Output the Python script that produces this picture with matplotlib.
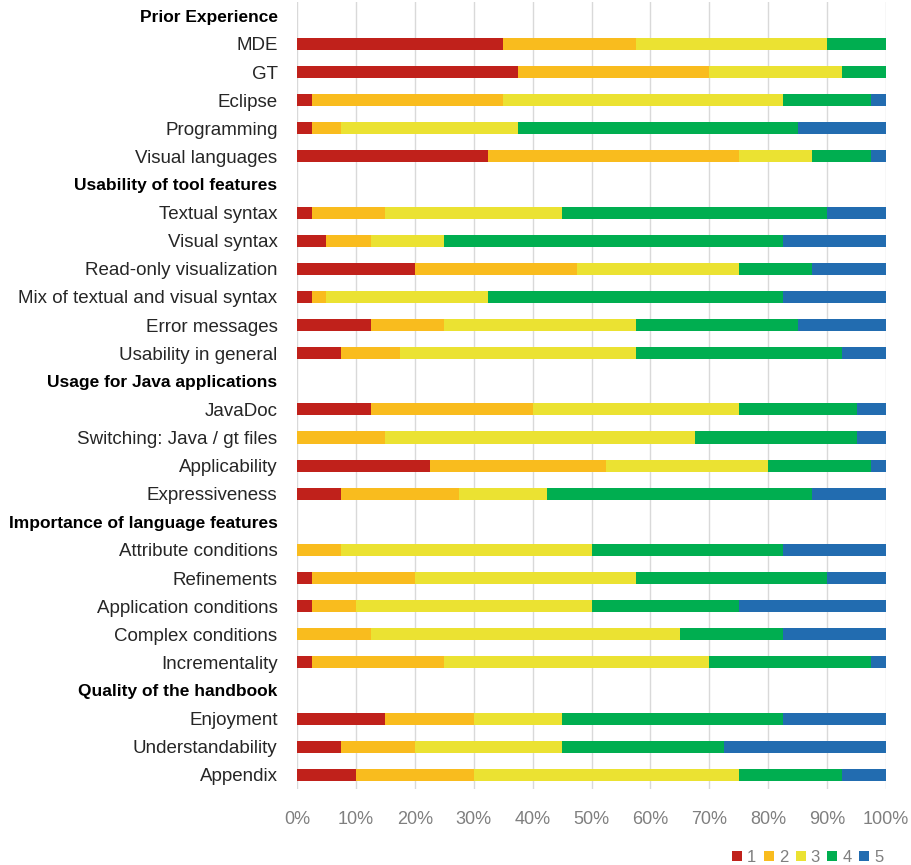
import matplotlib
matplotlib.use("Agg")
import matplotlib.pyplot as plt
from matplotlib.patches import Patch
import numpy as np

plt.rcParams['font.family'] = ['Liberation Sans', 'DejaVu Sans']

# Rows from top to bottom; section headers have no bars
rows = [
    "Prior Experience", "MDE", "GT", "Eclipse", "Programming", "Visual languages",
    "Usability of tool features", "Textual syntax", "Visual syntax",
    "Read-only visualization", "Mix of textual and visual syntax",
    "Error messages", "Usability in general",
    "Usage for Java applications", "JavaDoc", "Switching: Java / gt files",
    "Applicability", "Expressiveness",
    "Importance of language features", "Attribute conditions", "Refinements",
    "Application conditions", "Complex conditions", "Incrementality",
    "Quality of the handbook", "Enjoyment", "Understandability", "Appendix",
]
headers = {"Prior Experience", "Usability of tool features",
           "Usage for Java applications", "Importance of language features",
           "Quality of the handbook"}

# Percentage of answers per rating (1..5) for each item
share_1 = {"MDE": 35, "GT": 37.5, "Eclipse": 2.5, "Programming": 2.5, "Visual languages": 32.5,
           "Textual syntax": 2.5, "Visual syntax": 5, "Read-only visualization": 20,
           "Mix of textual and visual syntax": 2.5, "Error messages": 12.5, "Usability in general": 7.5,
           "JavaDoc": 12.5, "Switching: Java / gt files": 0, "Applicability": 22.5, "Expressiveness": 7.5,
           "Attribute conditions": 0, "Refinements": 2.5, "Application conditions": 2.5,
           "Complex conditions": 0, "Incrementality": 2.5,
           "Enjoyment": 15, "Understandability": 7.5, "Appendix": 10}
share_2 = {"MDE": 22.5, "GT": 32.5, "Eclipse": 32.5, "Programming": 5, "Visual languages": 42.5,
           "Textual syntax": 12.5, "Visual syntax": 7.5, "Read-only visualization": 27.5,
           "Mix of textual and visual syntax": 2.5, "Error messages": 12.5, "Usability in general": 10,
           "JavaDoc": 27.5, "Switching: Java / gt files": 15, "Applicability": 30, "Expressiveness": 20,
           "Attribute conditions": 7.5, "Refinements": 17.5, "Application conditions": 7.5,
           "Complex conditions": 12.5, "Incrementality": 22.5,
           "Enjoyment": 15, "Understandability": 12.5, "Appendix": 20}
share_3 = {"MDE": 32.5, "GT": 22.5, "Eclipse": 47.5, "Programming": 30, "Visual languages": 12.5,
           "Textual syntax": 30, "Visual syntax": 12.5, "Read-only visualization": 27.5,
           "Mix of textual and visual syntax": 27.5, "Error messages": 32.5, "Usability in general": 40,
           "JavaDoc": 35, "Switching: Java / gt files": 52.5, "Applicability": 27.5, "Expressiveness": 15,
           "Attribute conditions": 42.5, "Refinements": 37.5, "Application conditions": 40,
           "Complex conditions": 52.5, "Incrementality": 45,
           "Enjoyment": 15, "Understandability": 25, "Appendix": 45}
share_4 = {"MDE": 10, "GT": 7.5, "Eclipse": 15, "Programming": 47.5, "Visual languages": 10,
           "Textual syntax": 45, "Visual syntax": 57.5, "Read-only visualization": 12.5,
           "Mix of textual and visual syntax": 50, "Error messages": 27.5, "Usability in general": 35,
           "JavaDoc": 20, "Switching: Java / gt files": 27.5, "Applicability": 17.5, "Expressiveness": 45,
           "Attribute conditions": 32.5, "Refinements": 32.5, "Application conditions": 25,
           "Complex conditions": 17.5, "Incrementality": 27.5,
           "Enjoyment": 37.5, "Understandability": 27.5, "Appendix": 17.5}
share_5 = {"MDE": 0, "GT": 0, "Eclipse": 2.5, "Programming": 15, "Visual languages": 2.5,
           "Textual syntax": 10, "Visual syntax": 17.5, "Read-only visualization": 12.5,
           "Mix of textual and visual syntax": 17.5, "Error messages": 15, "Usability in general": 7.5,
           "JavaDoc": 5, "Switching: Java / gt files": 5, "Applicability": 2.5, "Expressiveness": 12.5,
           "Attribute conditions": 17.5, "Refinements": 10, "Application conditions": 25,
           "Complex conditions": 17.5, "Incrementality": 2.5,
           "Enjoyment": 17.5, "Understandability": 27.5, "Appendix": 7.5}

ratings = ["1", "2", "3", "4", "5"]
colors = ["#C0211B", "#F9BC1E", "#EBE232", "#00AE50", "#226CB0"]
tick_values = np.arange(0, 101, 10)

fig = plt.figure(figsize=(9.12, 8.65), dpi=100)
ax = fig.add_axes([0.3257, 0.088, 0.6458, 0.91])

y = np.arange(len(rows))
items = [r for r in rows if r not in headers]
item_y = np.array([rows.index(r) for r in items])
left = np.zeros(len(items))
for share, col in zip([share_1, share_2, share_3, share_4, share_5], colors):
    vals = np.array([share[r] for r in items], dtype=float)
    ax.barh(item_y, vals, left=left, height=0.43, color=col, zorder=3)
    left += vals

ax.set_xlim(0, 100)
ax.set_ylim(len(rows) - 0.5, -0.5)
ax.set_yticks(y)
ax.set_yticklabels(rows)
for lab in ax.get_yticklabels():
    if lab.get_text() in headers:
        lab.set_fontweight("bold")
        lab.set_color("black")
        lab.set_fontsize(12.5)
    else:
        lab.set_color("#262626")
        lab.set_fontsize(13.5)
ax.set_xticks(tick_values)
ax.set_xticklabels([f"{v}%" for v in tick_values], color="#7F7F7F", fontsize=13)
ax.tick_params(axis="both", length=0)
ax.tick_params(axis="x", pad=16)
ax.tick_params(axis="y", pad=14)
ax.grid(axis="x", color="#D9D9D9", linewidth=1, zorder=0)
for s in ax.spines.values():
    s.set_visible(False)

handles = [Patch(facecolor=c, label=r) for c, r in zip(colors, ratings)]
leg = fig.legend(handles=handles, loc="lower right", bbox_to_anchor=(0.985, -0.017), ncol=5,
                 frameon=False, handlelength=0.6, handleheight=0.6, handletextpad=0.3,
                 columnspacing=0.45, fontsize=12)
for t in leg.get_texts():
    t.set_color("#7F7F7F")

fig.savefig("out.png", dpi=100)
